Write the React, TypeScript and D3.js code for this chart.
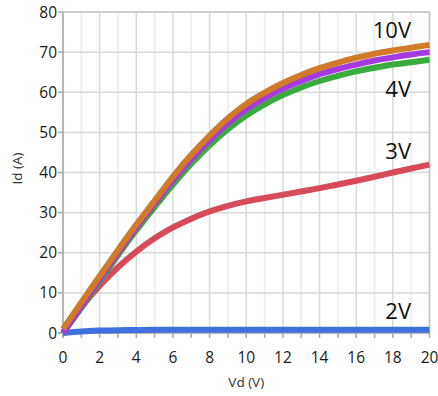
import React from "react";
import * as d3 from "d3";

// Vd sweep (V) and Id (A) for each gate voltage
const vd = [0, 1, 2, 3, 4, 5, 6, 7, 8, 9, 10, 11, 12, 13, 14, 15, 16, 17, 18, 19, 20];
const id2V = [0, 0.4, 0.6, 0.7, 0.75, 0.8, 0.8, 0.8, 0.8, 0.8, 0.8, 0.8, 0.8, 0.8, 0.8, 0.8, 0.8, 0.8, 0.8, 0.8, 0.8];
const id3V = [0, 6.4, 11.8, 16.4, 20.3, 23.6, 26.3, 28.5, 30.3, 31.7, 32.8, 33.65, 34.45, 35.25, 36.1, 37.0, 37.95, 38.95, 40.0, 41.0, 41.95];
const id4V = [0, 6.3, 12.9, 19.4, 25.6, 31.4, 37.0, 42.2, 46.8, 50.8, 54.2, 57.0, 59.3, 61.2, 62.8, 64.1, 65.2, 66.1, 66.9, 67.5, 68.1];
const id5V = [0, 6.6, 13.4, 20.0, 26.3, 32.3, 38.1, 43.4, 48.1, 52.3, 55.8, 58.6, 60.9, 62.8, 64.5, 65.8, 66.9, 67.9, 68.7, 69.4, 70.0];
const id10V = [1, 7.6, 14.2, 20.7, 27.0, 33.0, 39.0, 44.4, 49.2, 53.5, 57.1, 59.9, 62.3, 64.3, 66.0, 67.4, 68.6, 69.6, 70.4, 71.1, 71.8];

const xTicks = [0, 2, 4, 6, 8, 10, 12, 14, 16, 18, 20];
const yTicks = [0, 10, 20, 30, 40, 50, 60, 70, 80];

const curveLabels = [
  { text: "10V", v: 73.5 },
  { text: "4V", v: 58.9 },
  { text: "3V", v: 43.4 },
  { text: "2V", v: 3.5 },
];

const width = 438;
const height = 396;

export default function App() {
  const x = d3.scaleLinear().domain([0, 20]).range([63, 429.5]);
  const y = d3.scaleLinear().domain([0, 80]).range([333, 12]);

  const line = (vals: number[]) =>
    d3
      .line<number>()
      .x((d, i) => x(vd[i]))
      .y((d) => y(d))
      .curve(d3.curveCatmullRom.alpha(0.5))(vals) || "";

  // draw order: bottom to top
  const series = [
    { vals: id2V, color: "#4170e0" },
    { vals: id3V, color: "#d64a5a" },
    { vals: id4V, color: "#3aab3e" },
    { vals: id5V, color: "#a53ade" },
    { vals: id10V, color: "#d07a2a" },
  ];

  const minor = d3.range(1, 20, 2);
  const allTicks = d3.range(0, 21, 1);
  const font = "'Open Sans', 'Noto Sans', sans-serif";

  return (
    <svg
      width={width}
      height={height}
      style={{ position: "absolute", left: 0, top: 0, background: "#fff" }}
    >
      {/* minor vertical grid */}
      {minor.map((t) => (
        <line key={"mn" + t} x1={x(t)} x2={x(t)} y1={y(80)} y2={y(0)} stroke="#ececec" strokeWidth={1.5} />
      ))}
      {/* major vertical grid */}
      {xTicks.map((t) => (
        <line key={"mj" + t} x1={x(t)} x2={x(t)} y1={y(80)} y2={y(0)} stroke="#d9d9d9" strokeWidth={1.5} />
      ))}
      {/* horizontal grid */}
      {yTicks.map((t) => (
        <line key={"h" + t} x1={x(0)} x2={x(20)} y1={y(t)} y2={y(t)} stroke="#d9d9d9" strokeWidth={1.5} />
      ))}
      {/* border */}
      <line x1={x(0)} x2={x(20)} y1={y(80)} y2={y(80)} stroke="#c6c6c6" strokeWidth={1.5} />
      <line x1={x(20)} x2={x(20)} y1={y(80)} y2={y(0)} stroke="#c6c6c6" strokeWidth={1.5} />

      {/* axes */}
      <line x1={x(0)} x2={x(0)} y1={y(80)} y2={y(0) + 5} stroke="#a8a8a8" strokeWidth={1.5} />
      <line x1={x(0) - 5} x2={x(20)} y1={y(0)} y2={y(0)} stroke="#a8a8a8" strokeWidth={1.5} />
      {yTicks.map((t) => (
        <line key={"yt" + t} x1={x(0) - 5} x2={x(0)} y1={y(t)} y2={y(t)} stroke="#a8a8a8" strokeWidth={1.5} />
      ))}
      {allTicks.map((t) => (
        <line key={"xt" + t} x1={x(t)} x2={x(t)} y1={y(0)} y2={y(0) + 5} stroke="#a8a8a8" strokeWidth={1.5} />
      ))}

      {/* tick labels */}
      {yTicks.map((t) => (
        <text key={"yl" + t} x={57} y={y(t)} dy="0.36em" textAnchor="end" fontFamily={font} fontSize={15.5} fill="#1a1a1a">
          {t}
        </text>
      ))}
      {xTicks.map((t) => (
        <text key={"xl" + t} x={x(t)} y={363} textAnchor="middle" fontFamily={font} fontSize={15.5} fill="#1a1a1a">
          {t}
        </text>
      ))}

      {/* axis titles */}
      <text x={x(10)} y={387} textAnchor="middle" fontFamily={font} fontSize={13.5} fill="#333">
        Vd (V)
      </text>
      <text
        transform={`translate(22, ${y(41)}) rotate(-90)`}
        textAnchor="middle"
        fontFamily={font}
        fontSize={13.5}
        fill="#333"
      >
        Id (A)
      </text>

      {/* curves */}
      {series.map((s, i) => (
        <path key={"s" + i} d={line(s.vals)} fill="none" stroke={s.color} strokeWidth={6} strokeLinejoin="round" />
      ))}

      {/* curve labels */}
      {curveLabels.map((l) => (
        <text key={l.text} x={411} y={y(l.v)} textAnchor="end" fontFamily={font} fontSize={22} fill="#111">
          {l.text}
        </text>
      ))}
    </svg>
  );
}
